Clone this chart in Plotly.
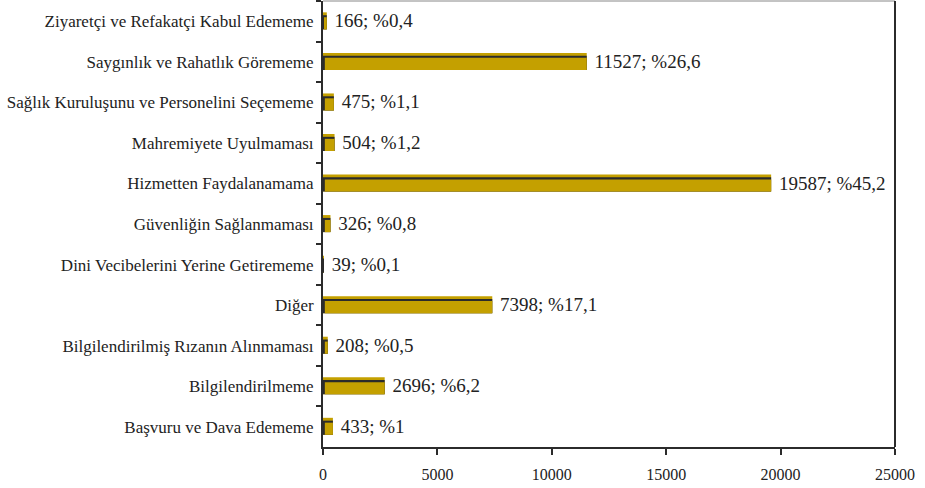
import plotly.graph_objects as go

categories = [
    "Ziyaretçi ve Refakatçi Kabul Edememe",
    "Saygınlık ve Rahatlık Görememe",
    "Sağlık Kuruluşunu ve Personelini Seçememe",
    "Mahremiyete Uyulmaması",
    "Hizmetten Faydalanamama",
    "Güvenliğin Sağlanmaması",
    "Dini Vecibelerini Yerine Getirememe",
    "Diğer",
    "Bilgilendirilmiş Rızanın Alınmaması",
    "Bilgilendirilmeme",
    "Başvuru ve Dava Edememe",
]
counts = [166, 11527, 475, 504, 19587, 326, 39, 7398, 208, 2696, 433]
shares = ["0,4", "26,6", "1,1", "1,2", "45,2", "0,8", "0,1", "17,1", "0,5", "6,2", "1"]
x_ticks = [0, 5000, 10000, 15000, 20000, 25000]

labels = [f" {c}; %{s}" for c, s in zip(counts, shares)]

FONT = "Liberation Serif"
GOLD = "#c4a000"
DARK = "#2b2b2b"
EDGE = 80  # width of the dark left face, in axis units

fig = go.Figure()

# outer gold body of each bar
fig.add_trace(go.Bar(
    y=categories, x=counts, orientation="h",
    marker=dict(color=GOLD, line=dict(width=0)),
    width=0.42, offset=-0.22,
    hoverinfo="skip", showlegend=False,
))

# dark inner edge (top line and left side)
fig.add_trace(go.Bar(
    y=categories, x=counts, orientation="h",
    marker=dict(color=DARK, line=dict(width=0)),
    width=0.35, offset=-0.15,
    hoverinfo="skip", showlegend=False,
))

# gold inner face
fig.add_trace(go.Bar(
    y=categories, x=[max(c - EDGE, 0) for c in counts],
    base=[min(EDGE, c) for c in counts], orientation="h",
    marker=dict(color=GOLD, line=dict(width=0)),
    width=0.3, offset=-0.10,
    showlegend=False,
))

# value labels placed at the bar ends
fig.add_trace(go.Bar(
    y=categories, x=counts, orientation="h",
    marker=dict(color="rgba(0,0,0,0)", line=dict(width=0)),
    width=0.42, offset=-0.22,
    text=labels, textposition="outside", cliponaxis=False, constraintext="none",
    textfont=dict(family=FONT, size=19, color="#222222"),
    hoverinfo="skip", showlegend=False,
))

fig.update_layout(
    width=925, height=488,
    margin=dict(l=323, r=30, t=1, b=41),
    paper_bgcolor="white", plot_bgcolor="white",
    barmode="overlay",
    font=dict(family=FONT, color="#222222"),
    xaxis=dict(
        range=[0, 25000], tickvals=x_ticks, ticktext=[str(v) for v in x_ticks],
        showgrid=False, zeroline=False,
        showline=True, linecolor=DARK, linewidth=2,
        ticks="outside", ticklen=6, tickwidth=2, tickcolor=DARK,
        tickfont=dict(family=FONT, size=16, color="#222222"),
        ticklabelstandoff=6,
    ),
    yaxis=dict(
        autorange="reversed", showgrid=False, zeroline=False,
        showline=True, linecolor=DARK, linewidth=2,
        ticks="outside", tickson="boundaries", ticklen=5, tickwidth=2, tickcolor=DARK,
        tickfont=dict(family=FONT, size=17, color="#222222"),
        ticklabelstandoff=4,
    ),
    shapes=[
        dict(type="line", xref="paper", yref="paper", x0=0, x1=1, y0=1, y1=1,
             line=dict(color="#888888", width=1)),
        dict(type="line", xref="paper", yref="paper", x0=1, x1=1, y0=0, y1=1,
             line=dict(color=DARK, width=2)),
    ],
)

fig.write_html("out.html")
